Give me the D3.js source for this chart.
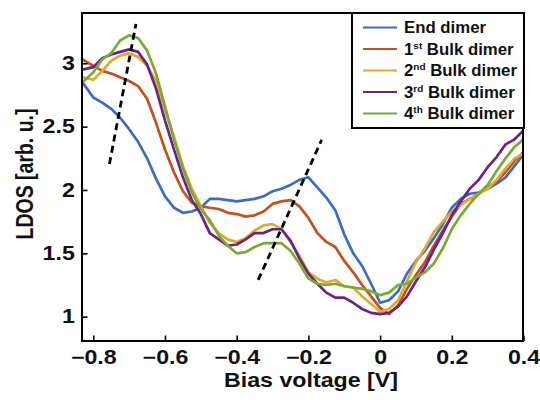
<!DOCTYPE html>
<html>
<head>
<meta charset="utf-8">
<script src="https://cdn.jsdelivr.net/npm/d3@7"></script>
<style>
  body { margin: 0; background: #fff; }
  text { font-family: "Liberation Sans", Arial, Helvetica, sans-serif; font-weight: bold; }
</style>
</head>
<body>
<div id="vis"></div>
<script>
// LDOS vs bias voltage

var voltage = [-0.83, -0.8, -0.775, -0.75, -0.725, -0.7, -0.675, -0.65, -0.625, -0.6,
  -0.575, -0.55, -0.525, -0.5, -0.475, -0.45, -0.425, -0.4, -0.375, -0.35,
  -0.325, -0.3, -0.275, -0.25, -0.225, -0.2, -0.175, -0.15, -0.125, -0.1,
  -0.075, -0.05, -0.025, 0, 0.025, 0.05, 0.075, 0.1, 0.125, 0.15,
  0.175, 0.2, 0.225, 0.25, 0.275, 0.3, 0.325, 0.35, 0.375, 0.4];

var endDimer = [2.85, 2.73, 2.69, 2.64, 2.57, 2.48, 2.38, 2.25, 2.09, 1.95,
  1.86, 1.82, 1.83, 1.86, 1.93, 1.93, 1.92, 1.91, 1.92, 1.93,
  1.95, 1.99, 2.01, 2.04, 2.08, 2.10, 2.02, 1.94, 1.84, 1.65,
  1.50, 1.40, 1.26, 1.11, 1.13, 1.20, 1.34, 1.44, 1.52, 1.62,
  1.73, 1.86, 1.93, 1.97, 1.98, 2.01, 2.05, 2.10, 2.19, 2.28];

var bulk1 = [3.03, 2.98, 2.94, 2.92, 2.89, 2.86, 2.82, 2.72, 2.53, 2.32,
  2.14, 1.99, 1.90, 1.87, 1.86, 1.85, 1.82, 1.81, 1.79, 1.80,
  1.83, 1.89, 1.91, 1.92, 1.87, 1.78, 1.66, 1.59, 1.55, 1.44,
  1.35, 1.25, 1.16, 1.07, 1.02, 1.09, 1.22, 1.33, 1.43, 1.56,
  1.68, 1.79, 1.89, 1.93, 1.97, 2.02, 2.07, 2.14, 2.23, 2.30];

var bulk2 = [2.89, 2.87, 2.94, 3.02, 3.06, 3.08, 3.05, 2.98, 2.86, 2.63,
  2.42, 2.19, 2.01, 1.87, 1.74, 1.66, 1.61, 1.59, 1.62, 1.68,
  1.72, 1.73, 1.69, 1.59, 1.48, 1.35, 1.30, 1.27, 1.29, 1.24,
  1.23, 1.16, 1.10, 1.04, 1.06, 1.13, 1.28, 1.43, 1.54, 1.67,
  1.75, 1.83, 1.88, 1.93, 1.97, 2.01, 2.08, 2.17, 2.25, 2.29];

var bulk3 = [2.95, 2.97, 3.04, 3.07, 3.09, 3.11, 3.09, 2.99, 2.80, 2.55,
  2.32, 2.10, 1.92, 1.81, 1.66, 1.61, 1.56, 1.57, 1.61, 1.66,
  1.66, 1.69, 1.69, 1.60, 1.46, 1.34, 1.26, 1.19, 1.15, 1.15,
  1.11, 1.06, 1.03, 1.02, 1.03, 1.08, 1.16, 1.28, 1.39, 1.53,
  1.66, 1.80, 1.91, 2.01, 2.08, 2.18, 2.26, 2.36, 2.40, 2.47];

var bulk4 = [2.85, 2.93, 3.03, 3.08, 3.18, 3.22, 3.20, 3.10, 2.92, 2.66,
  2.40, 2.17, 1.98, 1.85, 1.76, 1.64, 1.56, 1.50, 1.51, 1.55,
  1.58, 1.58, 1.58, 1.52, 1.42, 1.30, 1.26, 1.25, 1.26, 1.24,
  1.23, 1.22, 1.20, 1.17, 1.19, 1.25, 1.26, 1.31, 1.35, 1.42,
  1.54, 1.69, 1.80, 1.89, 1.97, 2.04, 2.15, 2.25, 2.34, 2.40];

var seriesNames = ['End dimer', '1st Bulk dimer', '2nd Bulk dimer', '3rd Bulk dimer', '4th Bulk dimer'];
var seriesColors = ['#3a6cc6', '#c4501f', '#e2aa2c', '#6a2488', '#78ab32'];

// guide lines through the peaks [[v0, y0], [v1, y1]]
var guide1 = [[-0.755, 2.205], [-0.681, 3.31]];
var guide2 = [[-0.340, 1.29], [-0.163, 2.395]];

var xTicks = [-0.8, -0.6, -0.4, -0.2, 0, 0.2, 0.4];
var yTicks = [1, 1.5, 2, 2.5, 3];

var W = 540, H = 400;
var pLeft = 82, pTop = 13, pRight = 523, pBottom = 341;
var stretch = 1.19; // the original figure's lettering is drawn wide

svg = d3.select('#vis').append('svg')
  .attr('width', W)
  .attr('height', H);

var x = d3.scaleLinear().domain([-0.8315, 0.3986]).range([pLeft, pRight]);
var y = d3.scaleLinear().domain([0.808, 3.397]).range([pBottom, pTop]);

svg.append('clipPath').attr('id', 'plotclip')
  .append('rect')
  .attr('x', pLeft).attr('y', pTop)
  .attr('width', pRight - pLeft).attr('height', pBottom - pTop);

var plot = svg.append('g').attr('clip-path', 'url(#plotclip)');

var line = d3.line()
  .x(function(d) { return x(d[0]); })
  .y(function(d) { return y(d[1]); });

var allSeries = [endDimer, bulk1, bulk2, bulk3, bulk4];
allSeries.forEach(function(vals, i) {
  plot.append('path')
    .datum(voltage.map(function(v, j) { return [v, vals[j]]; }))
    .attr('d', line)
    .attr('fill', 'none')
    .attr('stroke', seriesColors[i])
    .attr('stroke-width', 2.7)
    .attr('stroke-linejoin', 'round');
});

// dashed guides
[guide1, guide2].forEach(function(g) {
  plot.append('path')
    .datum(g)
    .attr('d', line)
    .attr('fill', 'none')
    .attr('stroke', '#000')
    .attr('stroke-width', 2.8)
    .attr('stroke-dasharray', '7,4.5');
});

// axes, ticks point inward
var fmtX = function(d) { return d === 0 ? '0' : d3.format('.1f')(d); };

var xAxis = svg.append('g')
  .attr('transform', 'translate(0,' + pBottom + ')')
  .call(d3.axisBottom(x).tickValues(xTicks).tickFormat(fmtX)
    .tickSizeInner(-5.5).tickSizeOuter(0).tickPadding(9));

var yAxis = svg.append('g')
  .attr('transform', 'translate(' + pLeft + ',0)')
  .call(d3.axisLeft(y).tickValues(yTicks).tickFormat(d3.format(''))
    .tickSizeInner(-5.5).tickSizeOuter(0).tickPadding(6));

[xAxis, yAxis].forEach(function(a) {
  a.select('.domain').remove();
  a.selectAll('.tick line').attr('stroke', '#000').attr('stroke-width', 1.6);
  a.selectAll('.tick text')
    .attr('fill', '#111')
    .attr('transform', 'scale(' + stretch + ',1)')
    .style('font-size', '19.5px')
    .style('font-family', '"Liberation Sans", Arial, sans-serif')
    .style('font-weight', 'bold');
});

// frame
svg.append('rect')
  .attr('x', pLeft).attr('y', pTop)
  .attr('width', pRight - pLeft).attr('height', pBottom - pTop)
  .attr('fill', 'none')
  .attr('stroke', '#000')
  .attr('stroke-width', 2);

// axis titles
svg.append('text')
  .attr('transform', 'translate(311,387) scale(' + stretch + ',1)')
  .attr('text-anchor', 'middle')
  .style('font-size', '19.5px')
  .attr('fill', '#111')
  .text('Bias voltage [V]');

svg.append('text')
  .attr('transform', 'translate(33,174) scale(' + stretch + ',1) rotate(-90)')
  .attr('text-anchor', 'middle')
  .style('font-size', '19.5px')
  .attr('fill', '#111')
  .text('LDOS [arb. u.]');

// legend
var leg = svg.append('g');
leg.append('rect')
  .attr('x', 352).attr('y', pTop)
  .attr('width', 172).attr('height', 115)
  .attr('fill', '#fff')
  .attr('stroke', '#000')
  .attr('stroke-width', 2);

var sup = ['', 'st', 'nd', 'rd', 'th'];
seriesNames.forEach(function(name, i) {
  var cy = 27.5 + i * 21.5;
  leg.append('line')
    .attr('x1', 363).attr('x2', 397)
    .attr('y1', cy).attr('y2', cy)
    .attr('stroke', seriesColors[i])
    .attr('stroke-width', 2);
  var t = leg.append('text')
    .attr('transform', 'translate(404,' + (cy + 5.8) + ') scale(1.05,1)')
    .style('font-size', '16px')
    .attr('fill', '#111');
  if (i === 0) {
    t.text(name);
  } else {
    t.append('tspan').text(String(i));
    t.append('tspan').attr('dy', -6).style('font-size', '9.5px').text(sup[i]);
    t.append('tspan').attr('dy', 6).text(name.slice(name.indexOf(' ')));
  }
});
</script>
</body>
</html>
